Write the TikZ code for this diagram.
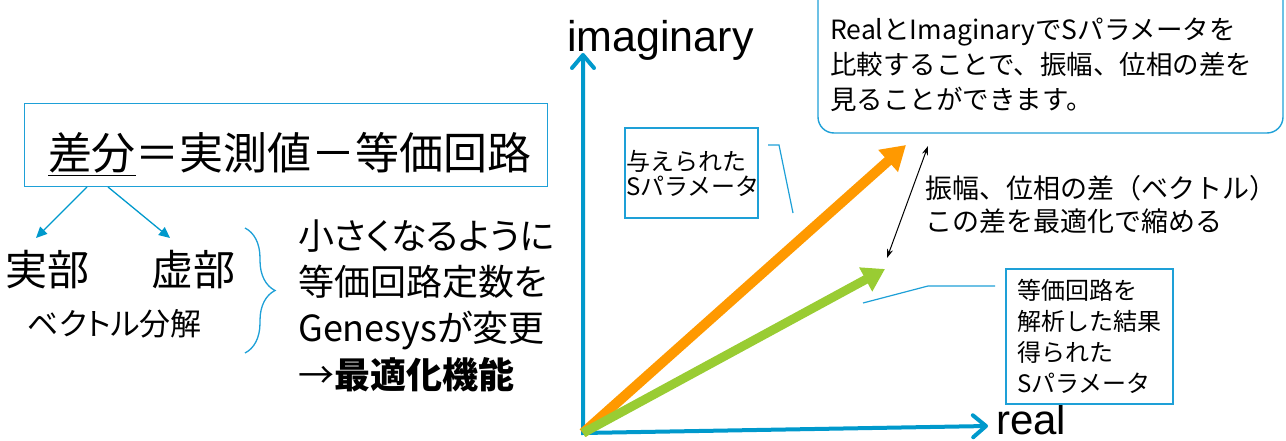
\documentclass[tikz,border=0pt]{standalone}
\usepackage{fontspec}
\usetikzlibrary{arrows.meta,decorations.pathreplacing}
\newfontfamily\jp{Noto Sans CJK JP}[RawFeature=+palt]
\newfontfamily\jpf{Noto Sans CJK JP}
\newfontfamily\lat{Liberation Sans}
\definecolor{axisblue}{RGB}{0,153,204}
\definecolor{boxblue}{RGB}{30,160,215}
\definecolor{vorange}{RGB}{255,153,0}
\definecolor{vgreen}{RGB}{153,204,51}
\newcommand{\fsz}[2]{\fontsize{#1}{#2}\selectfont}
\begin{document}
\begin{tikzpicture}[x=1pt,y=-1pt,
  bluebox/.style={draw=boxblue, line width=1.4pt},
  bluearrow/.style={draw=axisblue, line width=1.3pt, -{Triangle[length=11pt,width=10pt]}},
  axisline/.style={draw=axisblue, line width=4pt, >={Straight Barb[length=13pt,width=22pt,round]}, <->},
  callout/.style={draw=boxblue, line width=1.2pt},
  txt/.style={inner sep=0pt, text=black}]
\useasboundingbox (0,0) rectangle (1286,441);
\clip (0,0) rectangle (1286,441);

% ---------- left part ----------
\node[bluebox, minimum width=523pt, minimum height=83pt, inner sep=0pt] (eqbox) at (285.7,145) {};
\node[txt, font=\jpf\fsz{44}{44}] (eq) at (290,154) {\underline{差分}＝実測値－等価回路};

\coordinate (s1) at (87,187);  \coordinate (e1) at (36,238);
\coordinate (s2) at (108,187); \coordinate (e2) at (170,238);
\draw[bluearrow] (s1) -- (e1);
\draw[bluearrow] (s2) -- (e2);

\node[txt, font=\jpf\fsz{42}{42}] (re) at (47.5,270) {実部};
\node[txt, font=\jpf\fsz{42}{42}] (im) at (193,270) {虚部};
\node[txt, font=\jp\fsz{31}{31}] (vec) at (114.5,324) {ベクトル分解};

\coordinate (bt) at (245,228); \coordinate (bb) at (245,353);
\draw[boxblue, line width=1.3pt, decorate, decoration={brace, amplitude=30pt}] (bt) -- (bb);

\node[txt, font=\jp\fsz{36}{46.3}, align=left, anchor=west] (opt) at (298,305.5)
  {小さくなるように\\等価回路定数を\\Genesysが変更\\→{\bfseries 最適化機能}};

% ---------- vector diagram ----------
\coordinate (O) at (583,433);
\coordinate (ytip) at (583,53);
\coordinate (xtip) at (988,426);
\draw[axisline] (ytip) -- (O) -- (xtip);
\node[txt, font=\lat\fsz{43}{43}, anchor=base west] (ylab) at (567,52) {imaginary};
\node[txt, font=\lat\fsz{42}{42}, anchor=base west, text depth=0pt] (xlab) at (996,434) {real};

\coordinate (otip) at (906,145);
\coordinate (gtip) at (885,269);
\draw[vorange, line width=10pt, -{Triangle[length=24pt,width=28pt]}] (O) -- (otip);
\draw[vgreen, line width=9pt, -{Triangle[length=22pt,width=26pt]}] (O) -- (gtip);

\coordinate (dtop) at (928,146);
\coordinate (dbot) at (887,258);
\draw[black, line width=1pt, {Stealth[length=9pt,width=6pt]}-{Stealth[length=9pt,width=6pt]}] (dtop) -- (dbot);

\node[txt, font=\jpf\fsz{27}{33}, align=left, anchor=west] (diff) at (925,204.5)
  {振幅、位相の差（ベクトル）\\この差を最適化で縮める};

% given S-parameter box
\node[bluebox, minimum width=133pt, minimum height=90pt, text width=131pt, inner xsep=1pt, inner ysep=0pt,
      align=left, font=\jpf\fsz{24}{25}] (given) at (691.5,173) {与えられた\\Sパラメータ};
\coordinate (c1) at (768,145); \coordinate (c2) at (779,145); \coordinate (c3) at (793,213);
\draw[callout] (c1) -- (c2) -- (c3);

% result box
\node[bluebox, minimum width=167pt, minimum height=135pt, text width=145pt, inner xsep=11pt, inner ysep=0pt,
      align=left, font=\jpf\fsz{24}{31}] (result) at (1089.5,336.5)
  {等価回路を\\解析した結果\\得られた\\Sパラメータ};
\coordinate (g1) at (863,303); \coordinate (g2) at (928,286); \coordinate (g3) at (995,286);
\draw[callout] (g1) -- (g2) -- (g3);

% note box
\node[bluebox, rounded corners=16pt, minimum width=465pt, minimum height=153pt, inner sep=0pt] (notebox) at (1050.5,56.5) {};
\node[txt, font=\jpf\fsz{26.5}{35}, align=left, anchor=west] (note) at (830,65)
  {RealとImaginaryでSパラメータを\\比較することで、振幅、位相の差を\\見ることができます。};
\end{tikzpicture}
\end{document}
